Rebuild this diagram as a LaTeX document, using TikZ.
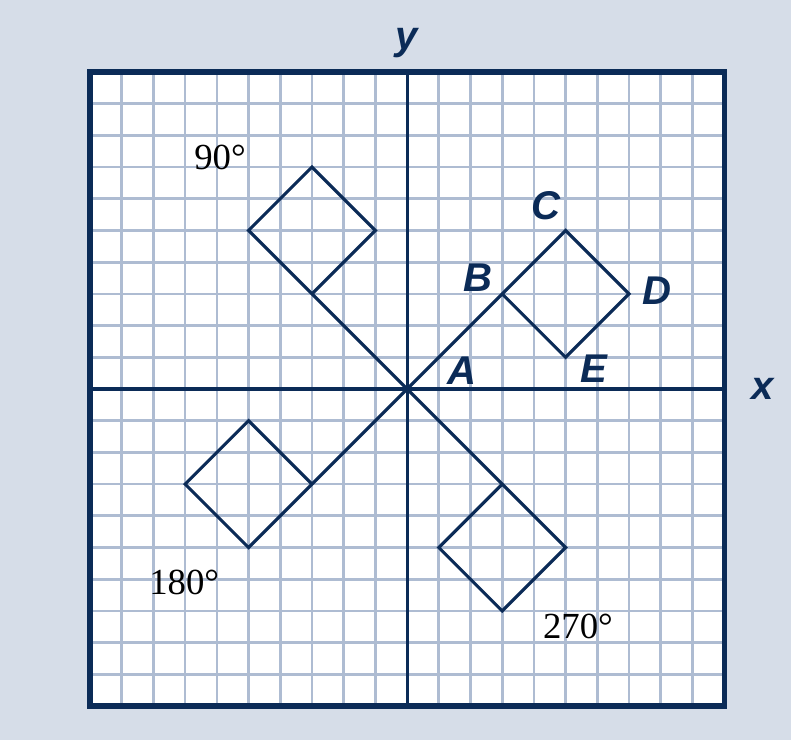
\documentclass[tikz,border=0pt]{standalone}
\usepackage{fontspec}
\setmainfont{Liberation Serif}
\setsansfont{Liberation Sans}
\definecolor{navy}{HTML}{0B2B57}
\definecolor{gridblue}{HTML}{AEBCD2}
\definecolor{paper}{HTML}{D6DDE8}

\begin{document}
\begin{tikzpicture}[
    gridline/.style={line width=2.4pt,color=gridblue},
    figline/.style={line width=2.8pt,color=navy,line join=miter},
    ptlabel/.style={font=\sffamily\bfseries\itshape\fontsize{36}{36}\selectfont,text=navy},
    anglabel/.style={font=\fontsize{33}{33}\selectfont,text=black}]

    % the background and the picture size
    \fill[paper] (-12.84,-11.07) rectangle (12.11,12.27);
    \useasboundingbox (-12.84,-11.07) rectangle (12.11,12.27);

    % the grid
    \fill[white] (-10,-10) rectangle (10,10);
    \draw[gridline] (-10,-10) grid (10,10);

    % the axes
    \coordinate (x axis) at (10,0); \coordinate (y axis) at (0,10);
    \draw[navy,line width=2.8pt] (-10,0) -- (x axis);
    \draw[navy,line width=2.8pt] (0,-10) -- (y axis);
    % the frame
    \draw[navy,line width=4.6pt] (-10,-10) rectangle (10,10);
    % labels for the axes
    \node[ptlabel] (xlab) at (11.2,0) {x};
    \node[ptlabel] (ylab) at (0,10.9) {y};

    % the figure and its three turns
    \foreach \ang in {0,90,180,270} {
      \begin{scope}[rotate=\ang]
        \coordinate (A\ang) at (0,0);
        \coordinate (B\ang) at (3,3);
        \coordinate (C\ang) at (5,5);
        \coordinate (D\ang) at (7,3);
        \coordinate (E\ang) at (5,1);
        \draw[figline] (A\ang) -- (B\ang) -- (C\ang) -- (D\ang)
        -- (E\ang) -- (B\ang);
      \end{scope}
    }

    % labels for the points
    \node[ptlabel] (labA) at (1.73,0.57) {A};
    \node[ptlabel] (labB) at (2.24,3.5) {B};
    \node[ptlabel] (labC) at (4.38,5.77) {C};
    \node[ptlabel] (labD) at (7.89,3.09) {D};
    \node[ptlabel] (labE) at (5.9,0.63) {E};

    % labels for the angles
    \node[anglabel] (lab90) at (-5.9,7.29) {90°};
    \node[anglabel] (lab180) at (-7.03,-6.09) {180°};
    \node[anglabel] (lab270) at (5.39,-7.5) {270°};
\end{tikzpicture}
\end{document}
